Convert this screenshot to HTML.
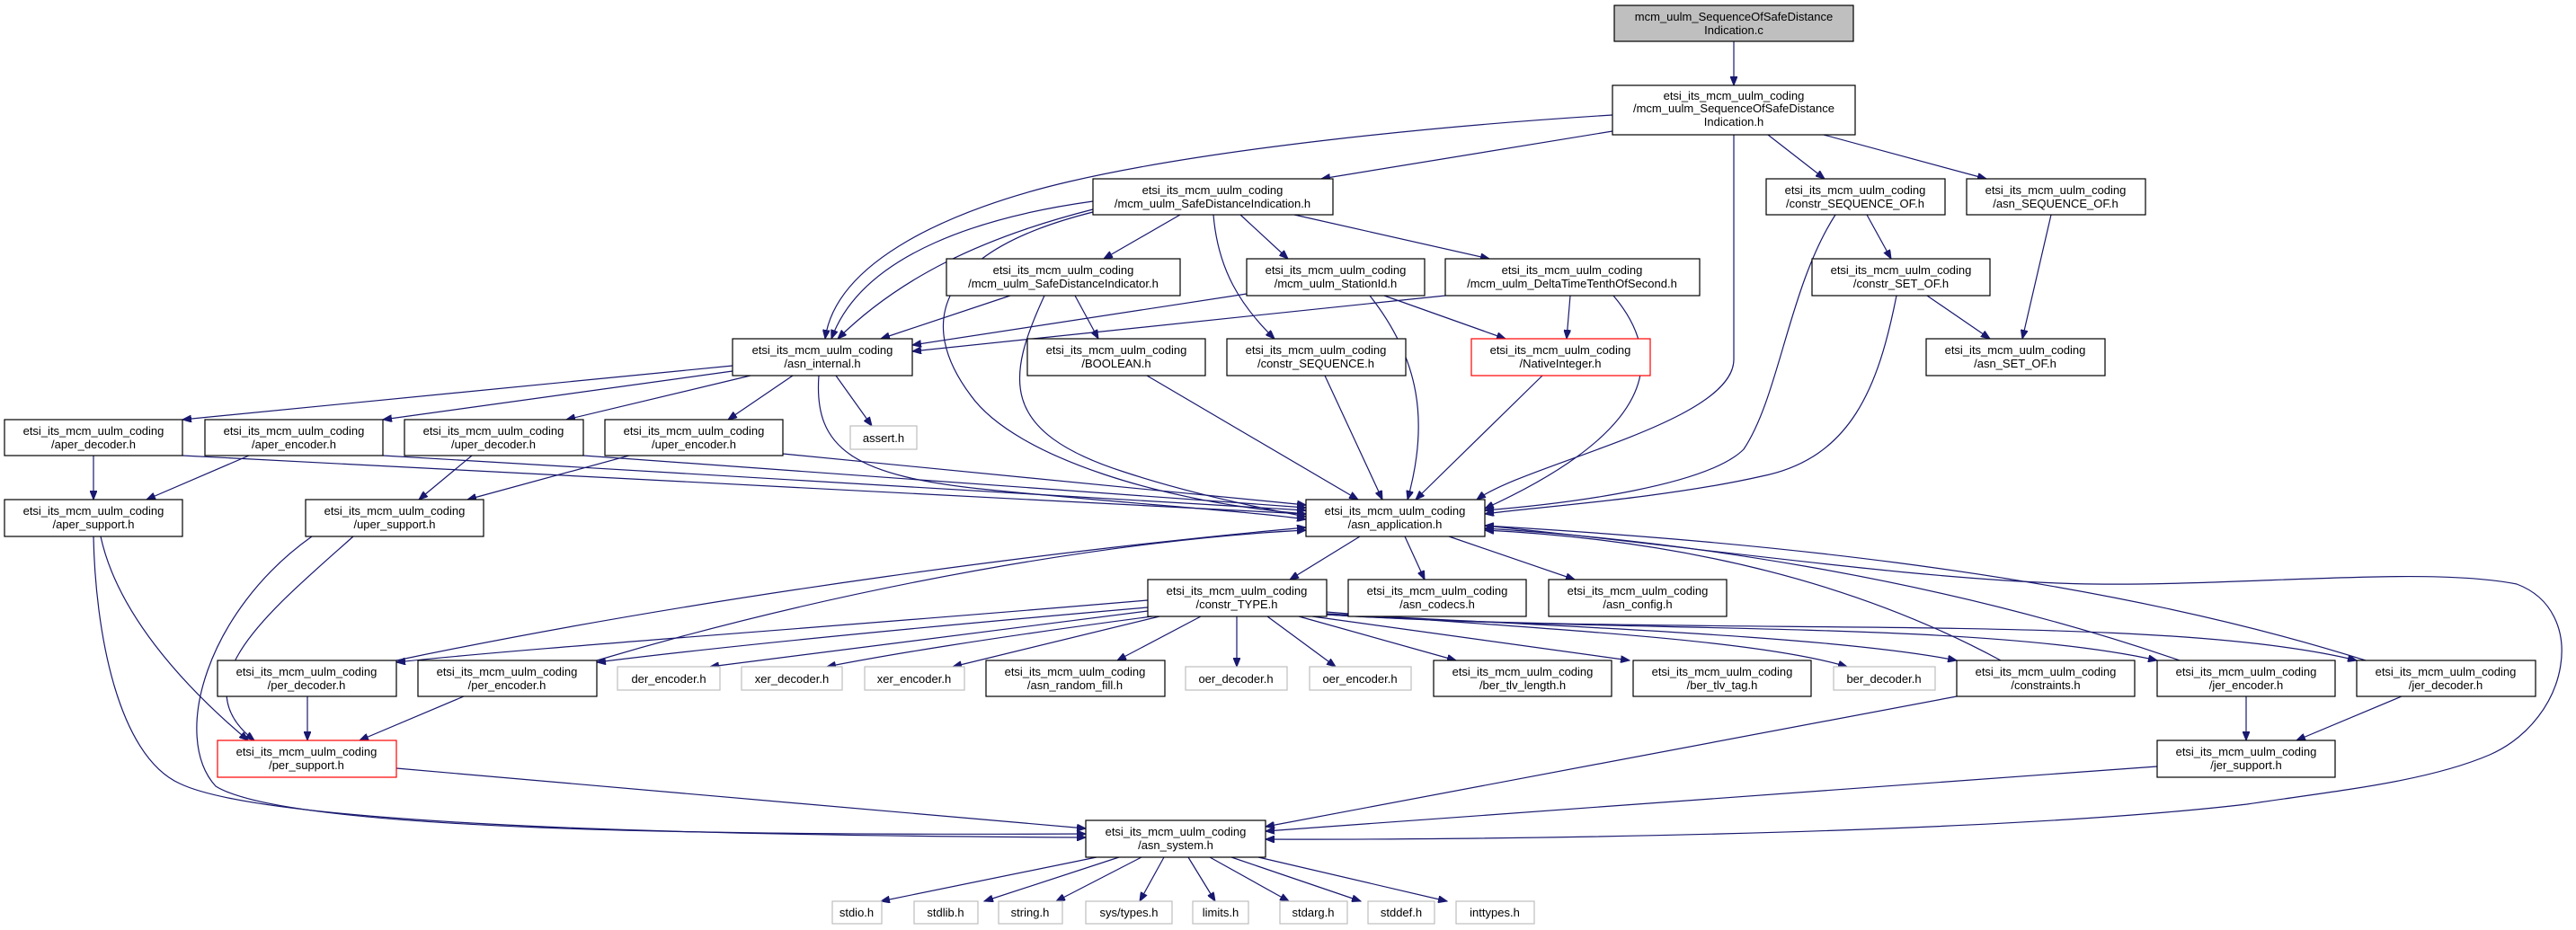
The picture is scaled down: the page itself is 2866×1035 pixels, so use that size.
<!DOCTYPE html>
<html><head><meta charset="utf-8"><style>
html,body{margin:0;padding:0;background:#fff;}
svg{display:block;}
text{font-family:"Liberation Sans",sans-serif;font-size:13px;fill:#000;text-anchor:middle;}
.n{fill:#fff;stroke:#000;stroke-width:1.2;}
.g{fill:#fff;stroke:#bfbfbf;stroke-width:1.2;}
.r{fill:#fff;stroke:#ff0000;stroke-width:1.2;}
path.e{fill:none;stroke:#191970;stroke-width:1.2;marker-end:url(#a);}
</style></head><body>
<svg width="2866" height="1035" viewBox="0 0 2866 1035" xmlns="http://www.w3.org/2000/svg">
<defs><marker id="a" markerUnits="userSpaceOnUse" markerWidth="11" markerHeight="8" refX="10" refY="4" orient="auto"><path d="M0,0 L10,4 L0,8 z" fill="#191970" stroke="#191970"/></marker></defs>
<g>
<path class="e" d="M1929,46 L1929,95"/>
<path class="e" d="M1794,128 C1600,140 1350,165 1190,202 C1060,232 930,290 918,377"/>
<path class="e" d="M1794,146 L1470,199"/>
<path class="e" d="M1929,150 L1929,400 C1929,470 1700,515 1643,556"/>
<path class="e" d="M1967,150 L2030,199"/>
<path class="e" d="M2029,150 L2210,199"/>
<path class="e" d="M1216,224 C1100,240 960,280 925,377"/>
<path class="e" d="M1216,233 C1090,265 1000,310 932,377"/>
<path class="e" d="M1216,236 C1040,280 1020,360 1080,440 C1130,510 1300,560 1453,572"/>
<path class="e" d="M1313,239 L1228,288"/>
<path class="e" d="M1380,239 L1433,288"/>
<path class="e" d="M1440,239 L1657,288"/>
<path class="e" d="M1350,239 C1355,300 1380,340 1418,377"/>
<path class="e" d="M1124,329 L980,377"/>
<path class="e" d="M1196,329 L1222,377"/>
<path class="e" d="M1162,329 C1120,420 1110,480 1250,525 C1320,548 1400,565 1453,575"/>
<path class="e" d="M1387,327 L1015,384"/>
<path class="e" d="M1540,329 L1675,377"/>
<path class="e" d="M1524,329 C1580,400 1590,470 1566,556"/>
<path class="e" d="M1608,329 L1015,391"/>
<path class="e" d="M1747,329 L1743,377"/>
<path class="e" d="M1795,329 C1855,400 1840,480 1652,566"/>
<path class="e" d="M2077,239 L2104,288"/>
<path class="e" d="M2042,239 C1990,320 1980,440 1940,500 C1900,540 1750,560 1652,568"/>
<path class="e" d="M2282,239 L2250,377"/>
<path class="e" d="M2144,329 L2214,377"/>
<path class="e" d="M2110,329 C2090,430 2060,510 1960,530 C1850,555 1700,565 1652,572"/>
<path class="e" d="M815,407 L203,467"/>
<path class="e" d="M815,413 L426,467"/>
<path class="e" d="M835,418 L630,467"/>
<path class="e" d="M882,418 L810,467"/>
<path class="e" d="M930,418 L970,474"/>
<path class="e" d="M911,418 C905,500 950,530 1100,545 C1250,560 1400,570 1453,578"/>
<path class="e" d="M1276,418 L1511,556"/>
<path class="e" d="M1474,418 L1538,556"/>
<path class="e" d="M1716,418 L1575,556"/>
<path class="e" d="M104,507 L104,556"/>
<path class="e" d="M203,507 L1453,572"/>
<path class="e" d="M277,507 L163,556"/>
<path class="e" d="M426,507 L1453,568"/>
<path class="e" d="M525,507 L466,556"/>
<path class="e" d="M649,507 L1453,565"/>
<path class="e" d="M700,507 L520,556"/>
<path class="e" d="M871,505 L1453,562"/>
<path class="e" d="M112,597 C130,680 200,760 276,824"/>
<path class="e" d="M104,597 C106,700 130,840 200,872 C300,920 800,930 1208,932"/>
<path class="e" d="M393,597 C300,680 200,760 283,824"/>
<path class="e" d="M347,597 C230,680 190,820 240,875 C320,925 800,930 1208,928"/>
<path class="e" d="M1513,597 L1435,645"/>
<path class="e" d="M1563,597 L1585,645"/>
<path class="e" d="M1612,597 L1752,645"/>
<path class="e" d="M1652,585 C1900,610 2150,648 2330,650 C2500,652 2700,630 2800,650 C2880,680 2860,800 2770,840 C2700,870 2600,880 2500,895 C2200,930 1600,935 1408,934"/>
<path class="e" d="M1277,668 C900,700 600,720 441,737"/>
<path class="e" d="M1277,676 C1000,700 800,720 664,737"/>
<path class="e" d="M1277,680 L790,742"/>
<path class="e" d="M1282,686 C1100,710 980,730 920,742"/>
<path class="e" d="M1290,686 L1060,742"/>
<path class="e" d="M1336,686 L1243,735"/>
<path class="e" d="M1376,686 L1376,742"/>
<path class="e" d="M1410,686 L1486,742"/>
<path class="e" d="M1445,686 L1620,735"/>
<path class="e" d="M1460,686 L1813,735"/>
<path class="e" d="M1476,681 C1700,700 1950,710 2055,742"/>
<path class="e" d="M1476,683 C1800,700 2050,710 2177,735"/>
<path class="e" d="M1476,684 C1800,705 2200,690 2400,735"/>
<path class="e" d="M1476,684 C1900,710 2400,680 2622,735"/>
<path class="e" d="M441,735 C800,660 1200,610 1453,587"/>
<path class="e" d="M342,775 L342,824"/>
<path class="e" d="M664,735 C950,650 1250,600 1453,590"/>
<path class="e" d="M516,775 L400,824"/>
<path class="e" d="M2226,735 C2050,640 1850,600 1652,590"/>
<path class="e" d="M2177,775 L1408,920"/>
<path class="e" d="M2425,735 C2150,640 1850,600 1652,588"/>
<path class="e" d="M2499,775 L2499,824"/>
<path class="e" d="M2632,735 C2300,630 1900,600 1652,585"/>
<path class="e" d="M2672,775 L2555,824"/>
<path class="e" d="M441,855 L1208,922"/>
<path class="e" d="M2400,853 L1408,925"/>
<path class="e" d="M1220,954 L980,1003"/>
<path class="e" d="M1245,954 L1095,1003"/>
<path class="e" d="M1270,954 L1175,1003"/>
<path class="e" d="M1295,954 L1268,1003"/>
<path class="e" d="M1322,954 L1352,1003"/>
<path class="e" d="M1346,954 L1434,1003"/>
<path class="e" d="M1370,954 L1514,1003"/>
<path class="e" d="M1400,954 L1610,1003"/>
</g>
<g>
<rect x="1796" y="6" width="266" height="40" fill="#bfbfbf" stroke="#000" stroke-width="1.2"/><text x="1929" y="23">mcm_uulm_SequenceOfSafeDistance</text><text x="1929" y="38">Indication.c</text>
<rect class="n" x="1794" y="95" width="270" height="55"/><text x="1929" y="111">etsi_its_mcm_uulm_coding</text><text x="1929" y="125">/mcm_uulm_SequenceOfSafeDistance</text><text x="1929" y="140">Indication.h</text>
<rect class="n" x="1216" y="199" width="267" height="40"/><text x="1349" y="216">etsi_its_mcm_uulm_coding</text><text x="1349" y="231">/mcm_uulm_SafeDistanceIndication.h</text>
<rect class="n" x="1965" y="199" width="199" height="40"/><text x="2064" y="216">etsi_its_mcm_uulm_coding</text><text x="2064" y="231">/constr_SEQUENCE_OF.h</text>
<rect class="n" x="2188" y="199" width="199" height="40"/><text x="2287" y="216">etsi_its_mcm_uulm_coding</text><text x="2287" y="231">/asn_SEQUENCE_OF.h</text>
<rect class="n" x="1053" y="288" width="260" height="41"/><text x="1183" y="305">etsi_its_mcm_uulm_coding</text><text x="1183" y="320">/mcm_uulm_SafeDistanceIndicator.h</text>
<rect class="n" x="1387" y="288" width="198" height="41"/><text x="1486" y="305">etsi_its_mcm_uulm_coding</text><text x="1486" y="320">/mcm_uulm_StationId.h</text>
<rect class="n" x="1608" y="288" width="283" height="41"/><text x="1749" y="305">etsi_its_mcm_uulm_coding</text><text x="1749" y="320">/mcm_uulm_DeltaTimeTenthOfSecond.h</text>
<rect class="n" x="2016" y="288" width="198" height="41"/><text x="2115" y="305">etsi_its_mcm_uulm_coding</text><text x="2115" y="320">/constr_SET_OF.h</text>
<rect class="n" x="815" y="377" width="200" height="41"/><text x="915" y="394">etsi_its_mcm_uulm_coding</text><text x="915" y="409">/asn_internal.h</text>
<rect class="n" x="1143" y="377" width="198" height="41"/><text x="1242" y="394">etsi_its_mcm_uulm_coding</text><text x="1242" y="409">/BOOLEAN.h</text>
<rect class="n" x="1365" y="377" width="199" height="41"/><text x="1464" y="394">etsi_its_mcm_uulm_coding</text><text x="1464" y="409">/constr_SEQUENCE.h</text>
<rect class="r" x="1637" y="377" width="199" height="41"/><text x="1736" y="394">etsi_its_mcm_uulm_coding</text><text x="1736" y="409">/NativeInteger.h</text>
<rect class="n" x="2143" y="377" width="199" height="41"/><text x="2242" y="394">etsi_its_mcm_uulm_coding</text><text x="2242" y="409">/asn_SET_OF.h</text>
<rect class="n" x="5" y="467" width="198" height="40"/><text x="104" y="484">etsi_its_mcm_uulm_coding</text><text x="104" y="499">/aper_decoder.h</text>
<rect class="n" x="228" y="467" width="198" height="40"/><text x="327" y="484">etsi_its_mcm_uulm_coding</text><text x="327" y="499">/aper_encoder.h</text>
<rect class="n" x="450" y="467" width="199" height="40"/><text x="549" y="484">etsi_its_mcm_uulm_coding</text><text x="549" y="499">/uper_decoder.h</text>
<rect class="n" x="673" y="467" width="198" height="40"/><text x="772" y="484">etsi_its_mcm_uulm_coding</text><text x="772" y="499">/uper_encoder.h</text>
<rect class="g" x="946" y="474" width="74" height="26"/><text x="983" y="492">assert.h</text>
<rect class="n" x="5" y="556" width="198" height="41"/><text x="104" y="573">etsi_its_mcm_uulm_coding</text><text x="104" y="588">/aper_support.h</text>
<rect class="n" x="340" y="556" width="198" height="41"/><text x="439" y="573">etsi_its_mcm_uulm_coding</text><text x="439" y="588">/uper_support.h</text>
<rect class="n" x="1453" y="556" width="199" height="41"/><text x="1552" y="573">etsi_its_mcm_uulm_coding</text><text x="1552" y="588">/asn_application.h</text>
<rect class="n" x="1277" y="645" width="199" height="41"/><text x="1376" y="662">etsi_its_mcm_uulm_coding</text><text x="1376" y="677">/constr_TYPE.h</text>
<rect class="n" x="1500" y="645" width="198" height="41"/><text x="1599" y="662">etsi_its_mcm_uulm_coding</text><text x="1599" y="677">/asn_codecs.h</text>
<rect class="n" x="1723" y="645" width="198" height="41"/><text x="1822" y="662">etsi_its_mcm_uulm_coding</text><text x="1822" y="677">/asn_config.h</text>
<rect class="n" x="242" y="735" width="199" height="40"/><text x="341" y="752">etsi_its_mcm_uulm_coding</text><text x="341" y="767">/per_decoder.h</text>
<rect class="n" x="465" y="735" width="199" height="40"/><text x="564" y="752">etsi_its_mcm_uulm_coding</text><text x="564" y="767">/per_encoder.h</text>
<rect class="g" x="687" y="742" width="114" height="26"/><text x="744" y="760">der_encoder.h</text>
<rect class="g" x="825" y="742" width="112" height="26"/><text x="881" y="760">xer_decoder.h</text>
<rect class="g" x="962" y="742" width="111" height="26"/><text x="1017" y="760">xer_encoder.h</text>
<rect class="n" x="1097" y="735" width="199" height="40"/><text x="1196" y="752">etsi_its_mcm_uulm_coding</text><text x="1196" y="767">/asn_random_fill.h</text>
<rect class="g" x="1319" y="742" width="113" height="26"/><text x="1375" y="760">oer_decoder.h</text>
<rect class="g" x="1457" y="742" width="113" height="26"/><text x="1513" y="760">oer_encoder.h</text>
<rect class="n" x="1595" y="735" width="198" height="40"/><text x="1694" y="752">etsi_its_mcm_uulm_coding</text><text x="1694" y="767">/ber_tlv_length.h</text>
<rect class="n" x="1817" y="735" width="198" height="40"/><text x="1916" y="752">etsi_its_mcm_uulm_coding</text><text x="1916" y="767">/ber_tlv_tag.h</text>
<rect class="g" x="2040" y="742" width="113" height="26"/><text x="2096" y="760">ber_decoder.h</text>
<rect class="n" x="2177" y="735" width="198" height="40"/><text x="2276" y="752">etsi_its_mcm_uulm_coding</text><text x="2276" y="767">/constraints.h</text>
<rect class="n" x="2400" y="735" width="198" height="40"/><text x="2499" y="752">etsi_its_mcm_uulm_coding</text><text x="2499" y="767">/jer_encoder.h</text>
<rect class="n" x="2622" y="735" width="199" height="40"/><text x="2721" y="752">etsi_its_mcm_uulm_coding</text><text x="2721" y="767">/jer_decoder.h</text>
<rect class="r" x="242" y="824" width="199" height="41"/><text x="341" y="841">etsi_its_mcm_uulm_coding</text><text x="341" y="856">/per_support.h</text>
<rect class="n" x="2400" y="824" width="198" height="41"/><text x="2499" y="841">etsi_its_mcm_uulm_coding</text><text x="2499" y="856">/jer_support.h</text>
<rect class="n" x="1208" y="913" width="200" height="41"/><text x="1308" y="930">etsi_its_mcm_uulm_coding</text><text x="1308" y="945">/asn_system.h</text>
<rect class="g" x="926" y="1003" width="55" height="25"/><text x="953" y="1020">stdio.h</text>
<rect class="g" x="1017" y="1003" width="71" height="25"/><text x="1052" y="1020">stdlib.h</text>
<rect class="g" x="1111" y="1003" width="71" height="25"/><text x="1146" y="1020">string.h</text>
<rect class="g" x="1208" y="1003" width="96" height="25"/><text x="1256" y="1020">sys/types.h</text>
<rect class="g" x="1327" y="1003" width="62" height="25"/><text x="1358" y="1020">limits.h</text>
<rect class="g" x="1424" y="1003" width="75" height="25"/><text x="1461" y="1020">stdarg.h</text>
<rect class="g" x="1522" y="1003" width="74" height="25"/><text x="1559" y="1020">stddef.h</text>
<rect class="g" x="1620" y="1003" width="87" height="25"/><text x="1663" y="1020">inttypes.h</text>
</g>
</svg>
</body></html>
